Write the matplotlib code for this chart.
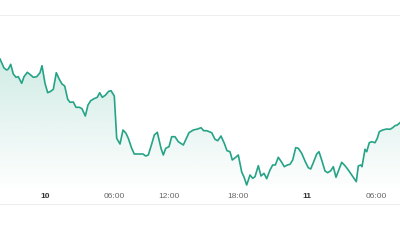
import matplotlib
matplotlib.use('Agg')
import matplotlib.pyplot as plt
import numpy as np
from matplotlib.patches import Polygon

# sample positions (x) and values
x = [0, 4, 6.7, 8.3, 10.7, 13.3, 16, 18.3, 21.7, 24, 27.3, 30.7, 33.3, 36.7, 40, 42,
     45, 47.7, 50.7, 53.3, 56.3, 59.3, 62, 64.7, 67.7, 70, 73.3, 76, 79.3, 82, 85.3,
     88, 90.7, 94, 97.3, 99.7, 102.3, 105.3, 108.7, 111, 114.3, 116.7, 120, 123, 126,
     128.3, 131.7, 134.3, 139, 143, 145.7, 148.3, 151.7, 154.3, 157.3, 161, 163.3,
     165.7, 169, 171.7, 175, 178.3, 183.3, 189, 193.3, 197.7, 201, 203.7, 206.7,
     211.7, 215, 217.7, 221, 224.3, 227, 230, 232.3, 235.7, 238.3, 241.7, 244,
     246.7, 250, 252.7, 255, 258.3, 261, 264, 266.7, 270, 272.7, 275.3, 278.3,
     281.3, 284.3, 287.3, 290, 292.7, 295.7, 298.3, 301.7, 305.3, 308.3, 310.7,
     313.3, 316.7, 319, 322, 325, 327.7, 330.7, 333.3, 336, 339, 341.7, 345, 348.3,
     351.7, 354, 356.3, 358.3, 360.7, 362, 365, 366.7, 369.3, 371.7, 375, 377.3,
     379.3, 382.7, 386.7, 390, 392.7, 395, 397.3, 400]
value = [145, 136, 134, 135, 139.7, 130, 126.7, 127.3, 120.7, 127.3, 131.7, 129, 126.7,
         127.3, 131.3, 138.3, 120.7, 111.3, 112.7, 114.7, 131.3, 124.7, 120, 118, 104.7,
         101.7, 102, 96.7, 96.7, 95.3, 88, 99, 103.3, 105.3, 106.7, 111.3, 106.7, 108.7,
         112.7, 113.3, 108, 65.7, 60, 74, 70.7, 65.7, 55.7, 50, 50, 50, 48, 49, 60, 69,
         71.7, 55.7, 49, 55.7, 57.3, 67.3, 67.3, 62.3, 59, 71.3, 74, 75, 76.3, 73.3, 73.3,
         71.3, 64.7, 63.3, 68, 60.7, 53.3, 52.3, 44, 46.7, 49, 32, 27, 19, 29, 25.7, 27.3,
         38.3, 28, 30.7, 25.3, 34, 39, 39, 46.7, 42.3, 37.3, 39, 39.7, 44, 56.3, 55.7,
         50.7, 42.3, 36.3, 35, 41.3, 50, 52.3, 43, 33, 31.3, 33.3, 37.3, 26.7, 34.7,
         41.7, 38.3, 34, 29, 25.7, 22.3, 38, 39, 37.3, 54.7, 52.3, 61.3, 62.3, 61.3,
         65.7, 72.3, 74, 75, 74.7, 76.3, 78.3, 79, 81.3]

tick_pos = [45, 114, 169, 238, 307, 376]
tick_labels = ['10', '06:00', '12:00', '18:00', '11', '06:00']
tick_bold = [True, False, False, False, True, False]

line_color = '#26a387'
plt.rcParams['font.family'] = ['Liberation Sans', 'DejaVu Sans']

fig = plt.figure(figsize=(4, 2.4), dpi=100)
fig.patch.set_facecolor('white')
ax = fig.add_axes([0, 36 / 240, 1, 189 / 240])
ax.set_xlim(0, 400)
ax.set_ylim(0, 189)

# gradient fill under the line
verts = [(x[0], 0)] + list(zip(x, value)) + [(x[-1], 0)]
poly = Polygon(verts, closed=True, facecolor='none', edgecolor='none')
ax.add_patch(poly)
grad = np.zeros((256, 1, 4))
rgb = matplotlib.colors.to_rgb(line_color)
grad[:, 0, :3] = rgb
levels = np.linspace(189, 0, 256)
grad[:, 0, 3] = np.clip((levels - 12) / (150 - 12), 0, 1) * 0.22
im = ax.imshow(grad, extent=[0, 400, 0, 189], aspect='auto', origin='upper',
               interpolation='bilinear', zorder=1)
im.set_clip_path(poly)

ax.plot(x, value, color=line_color, lw=1.2, zorder=3, solid_joinstyle='round')

for pos, lab, bold in zip(tick_pos, tick_labels, tick_bold):
    ax.text(pos, 0.039, lab, transform=ax.get_xaxis_transform(), ha='center', va='center',
            fontsize=6, fontweight='bold' if bold else 'normal',
            color='#333333' if bold else '#666666')

ax.set_xticks([])
ax.set_yticks([])
for side in ['left', 'right']:
    ax.spines[side].set_visible(False)
for side in ['top', 'bottom']:
    ax.spines[side].set_color('#eeeeee')
    ax.spines[side].set_linewidth(0.8)

fig.savefig('out.png', dpi=100, facecolor='white')
